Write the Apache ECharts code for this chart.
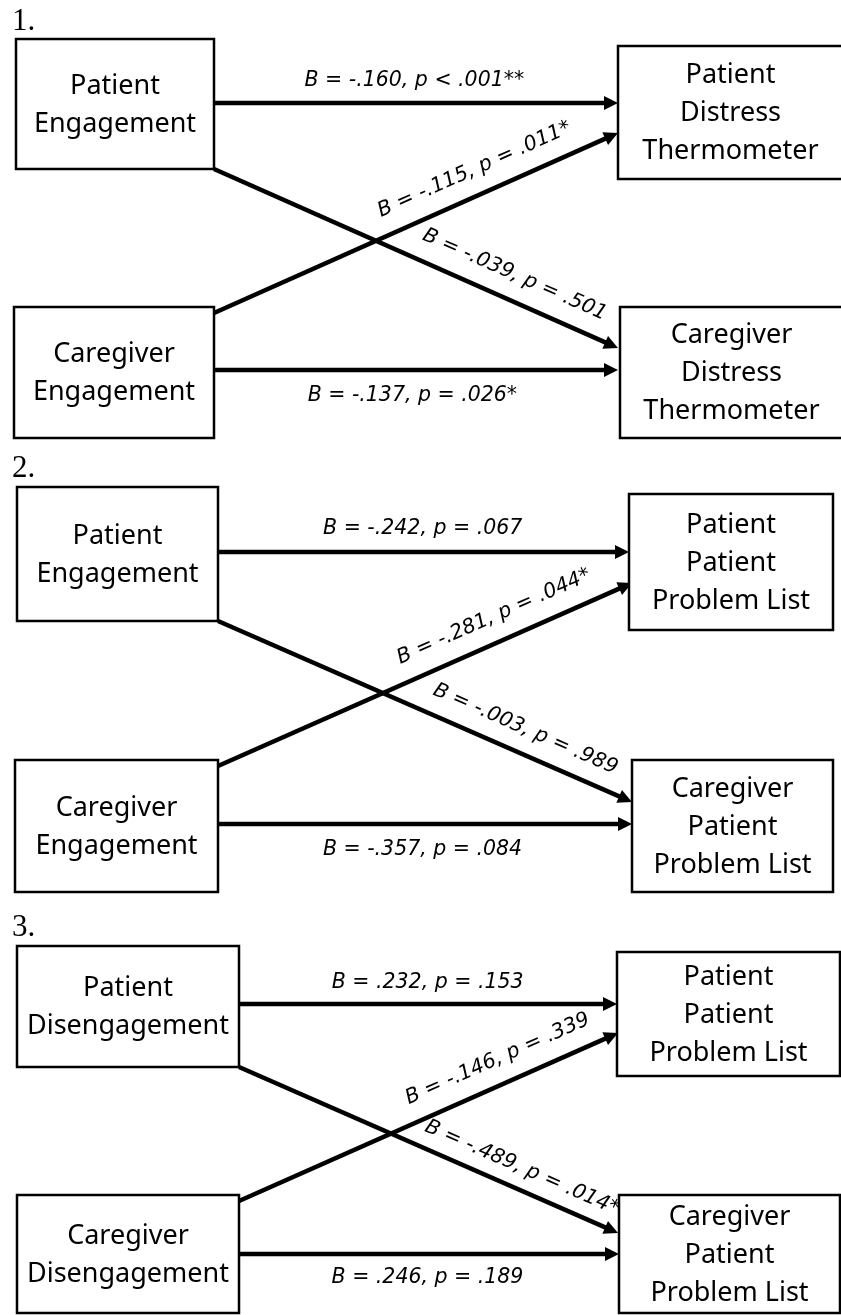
<!DOCTYPE html>
<html>
<head>
<meta charset="utf-8">
<script src="https://cdn.jsdelivr.net/npm/echarts@6/dist/echarts.min.js"></script>
<style>
  html, body { margin: 0; padding: 0; background: #fff; }
  #chart { width: 841px; height: 1315px; }
</style>
</head>
<body>
<div id="chart"></div>
<script>
// ---------------- DATA ----------------
const panelNumbers = ['1.', '2.', '3.'];
const sourceNames = [
  ['Patient\nEngagement', 'Caregiver\nEngagement'],
  ['Patient\nEngagement', 'Caregiver\nEngagement'],
  ['Patient\nDisengagement', 'Caregiver\nDisengagement']
];
const targetNames = [
  ['Patient\nDistress\nThermometer', 'Caregiver\nDistress\nThermometer'],
  ['Patient\nPatient\nProblem List', 'Caregiver\nPatient\nProblem List'],
  ['Patient\nPatient\nProblem List', 'Caregiver\nPatient\nProblem List']
];
// path order: PatientSrc->PatientTgt, CaregiverSrc->PatientTgt, PatientSrc->CaregiverTgt, CaregiverSrc->CaregiverTgt
const pathB = [
  [-0.160, -0.115, -0.039, -0.137],
  [-0.242, -0.281, -0.003, -0.357],
  [0.232, -0.146, -0.489, 0.246]
];
const pathP = [
  [0.001, 0.011, 0.501, 0.026],
  [0.067, 0.044, 0.989, 0.084],
  [0.153, 0.339, 0.014, 0.189]
];
const pathPOp = [
  ['<', '=', '=', '='],
  ['=', '=', '=', '='],
  ['=', '=', '=', '=']
];
const pathSig = [
  ['**', '*', '', '*'],
  ['', '*', '', ''],
  ['', '', '*', '']
];

// ---------------- LAYOUT (page pixels) ----------------
const numberLayout = [[12, 22], [12, 469], [12, 928]];
const sourceBoxLayout = [
  [[16, 39, 214, 169], [14, 307, 214, 438]],
  [[17, 487, 218, 621], [15, 760, 218, 892]],
  [[17, 946, 239, 1067], [17, 1195, 239, 1313]]
];
const targetBoxLayout = [
  [[618, 46, 843, 179], [620, 307, 843, 438]],
  [[629, 494, 833, 630], [632, 760, 833, 892]],
  [[617, 952, 840, 1076], [619, 1195, 840, 1313]]
];
const arrowLayout = [
  [[214, 103, 618, 103], [214, 313, 618, 133], [214, 169, 618, 348], [214, 370, 618, 370]],
  [[218, 552, 629, 552], [218, 766, 632, 583], [218, 621, 632, 802], [218, 824, 632, 824]],
  [[239, 1004, 617, 1004], [239, 1201, 618, 1033], [239, 1067, 618, 1233], [239, 1254, 619, 1254]]
];
// [fraction along arrow, offset from the line toward its upper side]
const labelLayout = [
  [[0.496, 22], [0.670, 25], [0.719, 25], [0.491, -26]],
  [[0.498, 23], [0.691, 25], [0.719, 24], [0.494, -25.5]],
  [[0.499, 21.5], [0.709, 25], [0.724, 21], [0.496, -23.5]]
];

// ---------------- HELPERS ----------------
function fmt3(v) {
  const s = String(Math.round(Math.abs(v) * 1000)).padStart(3, '0');
  return (v < 0 ? '-' : '') + '.' + s;
}
function pathLabel(p, k) {
  return 'B = ' + fmt3(pathB[p][k]) + ', p ' + pathPOp[p][k] + ' ' + fmt3(pathP[p][k]) + pathSig[p][k];
}

const BOX_FONT = 'Noto Sans';
const BOX_SIZE = 27;
const EDGE_FONT = 'DejaVu Sans';
const EDGE_SIZE = 20.5;

const boxes = [];
for (let p = 0; p < 3; p++) {
  for (let s = 0; s < 2; s++) boxes.push({ r: sourceBoxLayout[p][s], t: sourceNames[p][s] });
  for (let s = 0; s < 2; s++) boxes.push({ r: targetBoxLayout[p][s], t: targetNames[p][s] });
}
const arrows = [];
for (let p = 0; p < 3; p++) for (let k = 0; k < 4; k++) arrows.push({ p: p, k: k });

function idxData(n) { const a = []; for (let i = 0; i < n; i++) a.push([i, i]); return a; }

function renderBox(params, api) {
  const b = boxes[params.dataIndex];
  const a = api.coord([b.r[0], b.r[1]]);
  const c = api.coord([b.r[2], b.r[3]]);
  return {
    type: 'group',
    children: [
      { type: 'rect', shape: { x: a[0], y: a[1], width: c[0] - a[0], height: c[1] - a[1] },
        style: { fill: '#ffffff', stroke: '#000000', lineWidth: 2.5 } },
      { type: 'text', x: (a[0] + c[0]) / 2, y: (a[1] + c[1]) / 2 + 1,
        style: { text: b.t, fill: '#000000', fontFamily: BOX_FONT, fontSize: BOX_SIZE,
                 lineHeight: 38, align: 'center', verticalAlign: 'middle' } }
    ]
  };
}

function renderArrow(params, api) {
  const d = arrows[params.dataIndex];
  const L = arrowLayout[d.p][d.k];
  const a = api.coord([L[0], L[1]]);
  const b = api.coord([L[2], L[3]]);
  const dx = b[0] - a[0], dy = b[1] - a[1];
  const len = Math.sqrt(dx * dx + dy * dy);
  const ux = dx / len, uy = dy / len;
  const head = 14, hw = 7;
  const bx = b[0] - ux * head, by = b[1] - uy * head;
  return {
    type: 'group',
    children: [
      { type: 'line', shape: { x1: a[0], y1: a[1], x2: b[0] - ux * 9, y2: b[1] - uy * 9 },
        style: { stroke: '#000000', lineWidth: 4.5 } },
      { type: 'polygon', shape: { points: [[b[0], b[1]], [bx - uy * hw, by + ux * hw], [bx + uy * hw, by - ux * hw]] },
        style: { fill: '#000000' } }
    ]
  };
}

function renderLabel(params, api) {
  const d = arrows[params.dataIndex];
  const L = arrowLayout[d.p][d.k];
  const lay = labelLayout[d.p][d.k];
  const a = api.coord([L[0], L[1]]);
  const b = api.coord([L[2], L[3]]);
  const dx = b[0] - a[0], dy = b[1] - a[1];
  const len = Math.sqrt(dx * dx + dy * dy);
  const ux = dx / len, uy = dy / len;
  const nx = uy, ny = -ux; // upper-side normal
  const px = a[0] + dx * lay[0] + nx * lay[1];
  const py = a[1] + dy * lay[0] + ny * lay[1];
  return {
    type: 'text', x: px, y: py, rotation: Math.atan2(-dy, dx),
    style: { text: pathLabel(d.p, d.k), fill: '#000000', fontFamily: EDGE_FONT, fontStyle: 'italic',
             fontSize: EDGE_SIZE, align: 'center', verticalAlign: 'middle' }
  };
}

function renderNumber(params, api) {
  const i = params.dataIndex;
  const c = api.coord(numberLayout[i]);
  return {
    type: 'text', x: c[0], y: c[1],
    style: { text: panelNumbers[i], fill: '#000000', fontFamily: 'Liberation Serif', fontSize: 31,
             align: 'left', verticalAlign: 'middle' }
  };
}

const chart = echarts.init(document.getElementById('chart'), null, { renderer: 'canvas' });
chart.setOption({
  animation: false,
  backgroundColor: '#ffffff',
  grid: { left: 0, right: 0, top: 0, bottom: 0 },
  xAxis: { type: 'value', min: 0, max: 841, show: false },
  yAxis: { type: 'value', min: 0, max: 1315, inverse: true, show: false },
  series: [
    { type: 'custom', name: 'arrows', renderItem: renderArrow, data: idxData(arrows.length), encode: { x: 0, y: 1 }, silent: true },
    { type: 'custom', name: 'boxes', renderItem: renderBox, data: idxData(boxes.length), encode: { x: 0, y: 1 }, silent: true },
    { type: 'custom', name: 'labels', renderItem: renderLabel, data: idxData(arrows.length), encode: { x: 0, y: 1 }, silent: true },
    { type: 'custom', name: 'numbers', renderItem: renderNumber, data: idxData(panelNumbers.length), encode: { x: 0, y: 1 }, silent: true }
  ]
});
</script>
</body>
</html>
